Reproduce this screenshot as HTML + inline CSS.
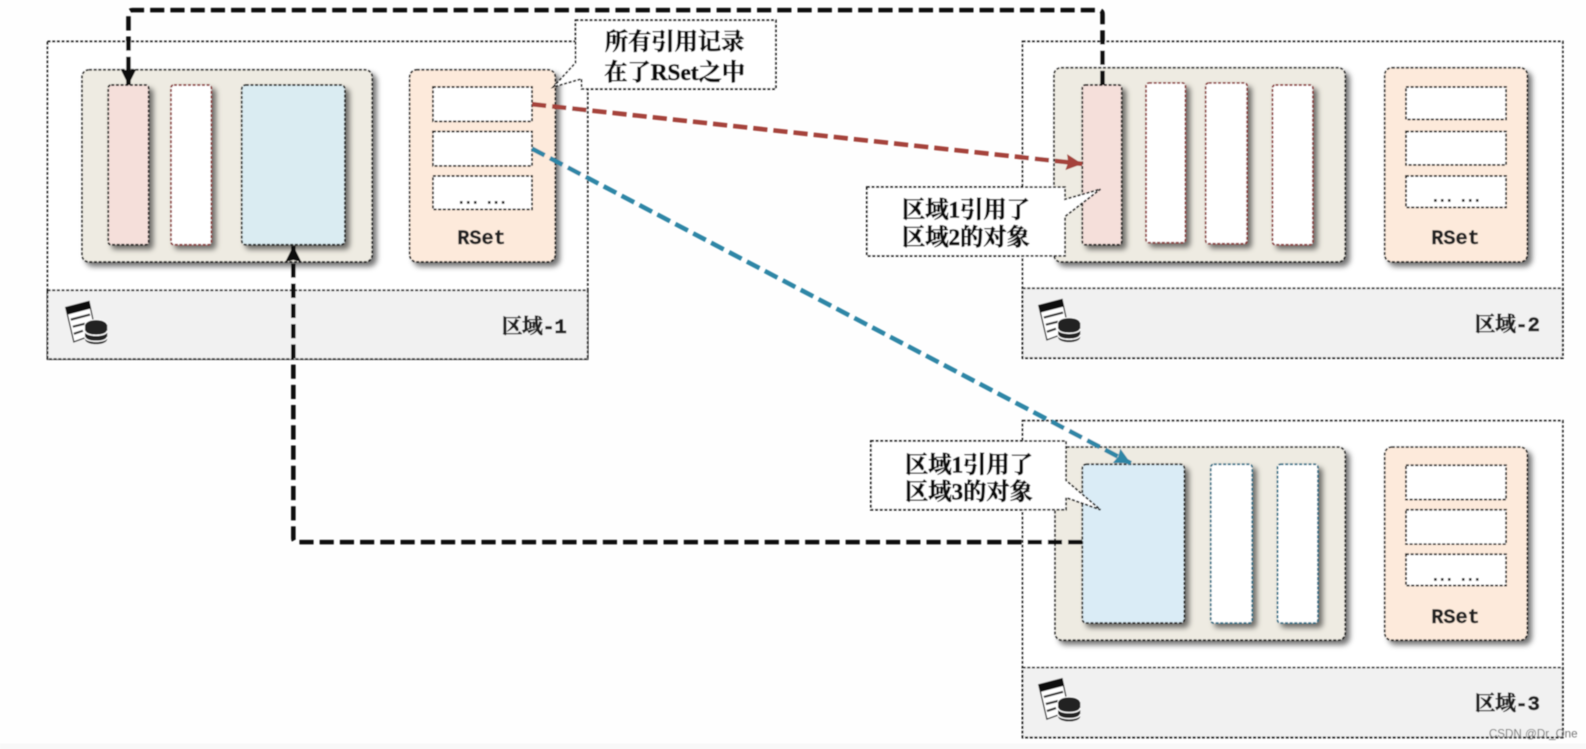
<!DOCTYPE html>
<html lang="zh"><head><meta charset="utf-8"><title>RSet</title>
<style>
html,body{margin:0;padding:0;background:#fefefe;width:1586px;height:749px;overflow:hidden}
svg{display:block}
.o{stroke:#111;stroke-width:1.7;stroke-dasharray:3 1.6;}
.cn{font-family:"Liberation Serif","Noto Serif CJK SC",serif;font-weight:700;font-size:23px;fill:#111;stroke:#111;stroke-width:.6;text-anchor:middle}
.rs{font-family:"Liberation Mono",monospace;font-weight:700;font-size:20px;fill:#222;stroke:#222;stroke-width:.4;text-anchor:middle}
.lb{font-family:"Liberation Mono","Noto Serif CJK SC",serif;font-weight:700;font-size:20.5px;fill:#222;stroke:#222;stroke-width:.6;text-anchor:end;letter-spacing:-.4px}
.dd{font-family:"Liberation Mono",monospace;font-weight:700;font-size:14px;fill:#222;stroke:#222;stroke-width:.6;text-anchor:middle;letter-spacing:-1.5px}
</style></head><body>
<svg xmlns="http://www.w3.org/2000/svg" width="1586" height="749" viewBox="0 0 1568 740.5">
<defs>
<filter id="s" x="-20%" y="-20%" width="150%" height="150%"><feDropShadow dx="4" dy="4" stdDeviation="2.5" flood-color="#000" flood-opacity=".55"/></filter>
<filter id="b" x="-5%" y="-5%" width="110%" height="110%"><feGaussianBlur stdDeviation=".6"/></filter>
<marker id="ak" markerUnits="userSpaceOnUse" markerWidth="20" markerHeight="20" refX="16" refY="9" orient="auto"><path d="M0 1L16 9L0 17L2 9Z" fill="#111"/></marker>
<marker id="ar" markerUnits="userSpaceOnUse" markerWidth="20" markerHeight="20" refX="16" refY="9" orient="auto"><path d="M0 1L16 9L0 17L2 9Z" fill="#a5423a"/></marker>
<marker id="ab" markerUnits="userSpaceOnUse" markerWidth="20" markerHeight="20" refX="16" refY="9" orient="auto"><path d="M0 1L16 9L0 17L2 9Z" fill="#2f86a6"/></marker>
<g id="ic">
<path d="M0 6L23 0L30 32L8 40Z" fill="#fff" stroke="#222" stroke-width="1.3"/>
<path d="M0 6L23 0L25 7L2 13Z" fill="#111"/>
<path d="M5 18L24 13M7 25L19 22M8 32L17 29" stroke="#333" stroke-width="2.2"/>
<ellipse cx="30" cy="23" rx="11" ry="5" fill="#222" stroke="#fff"/>
<path d="M19 23V37C19 44 41 44 41 37V23" fill="#222"/>
<path d="M19 29C19 35 41 35 41 29M19 35C19 41 41 41 41 35" stroke="#fff" stroke-width="1.4" fill="none"/>
</g>
</defs>
<g filter="url(#b)">
<!-- regions -->
<rect x="47" y="41" width="534" height="314" fill="#fff" class="o"/>
<rect x="47" y="287" width="534" height="68" fill="#f1f1f1" class="o"/>
<rect x="1011" y="41" width="534" height="313" fill="#fff" class="o"/>
<rect x="1011" y="285" width="534" height="69" fill="#f1f1f1" class="o"/>
<rect x="1011" y="416" width="534" height="313" fill="#fff" class="o"/>
<rect x="1011" y="660" width="534" height="69" fill="#f1f1f1" class="o"/>
<!-- containers -->
<g filter="url(#s)">
<rect x="81" y="69" width="287" height="190" rx="7" fill="#eeebe2" class="o"/>
<rect x="405" y="69" width="144" height="190" rx="7" fill="#fdeadb" class="o"/>
<rect x="1042" y="67" width="288" height="192" rx="7" fill="#eeebe2" class="o"/>
<rect x="1369" y="67" width="141" height="192" rx="7" fill="#fdeadb" class="o"/>
<rect x="1043" y="442" width="287" height="191" rx="7" fill="#eeebe2" class="o"/>
<rect x="1369" y="442" width="141" height="191" rx="7" fill="#fdeadb" class="o"/>
</g>
<!-- bars -->
<g filter="url(#s)">
<rect x="107" y="84" width="40" height="158" rx="3" fill="#f5dfda" class="o"/>
<rect x="169" y="84" width="40" height="158" rx="3" fill="#fff" class="o" style="stroke:#8a3030"/>
<rect x="239" y="84" width="102" height="158" rx="4" fill="#daecf2" class="o"/>
<rect x="1070" y="84" width="39" height="158" rx="3" fill="#f5dfda" class="o"/>
<rect x="1133" y="82" width="39" height="158" rx="3" fill="#fff" class="o" style="stroke:#8a3030"/>
<rect x="1192" y="82" width="41" height="159" rx="3" fill="#fff" class="o" style="stroke:#8a3030"/>
<rect x="1258" y="84" width="40" height="158" rx="3" fill="#fff" class="o" style="stroke:#8a3030"/>
<rect x="1070" y="459" width="101" height="157" rx="4" fill="#daecf6" class="o"/>
<rect x="1197" y="459" width="41" height="157" rx="3" fill="#fff" class="o" style="stroke:#1f6a84"/>
<rect x="1263" y="459" width="40" height="157" rx="3" fill="#fff" class="o" style="stroke:#1f6a84"/>
</g>
<!-- rset rows -->
<g fill="#fff" class="o">
<rect x="428" y="86" width="98" height="34"/><rect x="428" y="130" width="98" height="34"/><rect x="428" y="174" width="98" height="33"/>
<rect x="1390" y="86" width="99" height="32"/><rect x="1390" y="130" width="99" height="33"/><rect x="1390" y="174" width="99" height="31"/>
<rect x="1390" y="460" width="99" height="34"/><rect x="1390" y="504" width="99" height="34"/><rect x="1390" y="548" width="99" height="31"/>
</g>
<text class="dd" x="476" y="201">... ...</text>
<text class="dd" x="1439" y="199">... ...</text>
<text class="dd" x="1439" y="574">... ...</text>
<text class="rs" x="476" y="241">RSet</text>
<text class="rs" x="1439" y="241">RSet</text>
<text class="rs" x="1439" y="616">RSet</text>
<text class="lb" x="560" y="329">区域-1</text>
<text class="lb" x="1522" y="327">区域-2</text>
<text class="lb" x="1522" y="702">区域-3</text>
<use href="#ic" transform="translate(65 298)"/>
<use href="#ic" transform="translate(1027 296)"/>
<use href="#ic" transform="translate(1027 671)"/>
<!-- connectors -->
<g fill="none" stroke-width="4.5" stroke-dasharray="14 6">
<path d="M1090 84V14Q1090 10 1086 10H131Q127 10 127 14V84" stroke="#111" marker-end="url(#ak)"/>
<path d="M1070 536H294Q290 536 290 532V243" stroke="#111" marker-end="url(#ak)"/>
<path d="M526 103L1070 162" stroke="#a5423a" marker-end="url(#ar)"/>
<path d="M526 147L1118 458" stroke="#2f86a6" marker-end="url(#ab)"/>
</g>
<!-- callouts -->
<path d="M569 20H767V88H575V78L547 86L569 62Z" fill="#fff" class="o"/>
<path d="M857 185H1053V197L1088 187L1053 214V253H857Z" fill="#fff" class="o"/>
<path d="M861 436H1054V475L1088 504L1054 492V504H861Z" fill="#fff" class="o"/>
<text class="cn" x="667" y="49">所有引用记录</text>
<text class="cn" x="667" y="79">在了RSet之中</text>
<text class="cn" x="955" y="215">区域1引用了</text>
<text class="cn" x="955" y="242">区域2的对象</text>
<text class="cn" x="958" y="467">区域1引用了</text>
<text class="cn" x="958" y="494">区域3的对象</text>
<rect x="0" y="735" width="1568" height="6" fill="#f8f8f8"/>
<text x="1472" y="729" font-family="Liberation Sans, sans-serif" font-size="11.5" fill="#777">CSDN @Dr_One</text>
</g>
</svg>
</body></html>
